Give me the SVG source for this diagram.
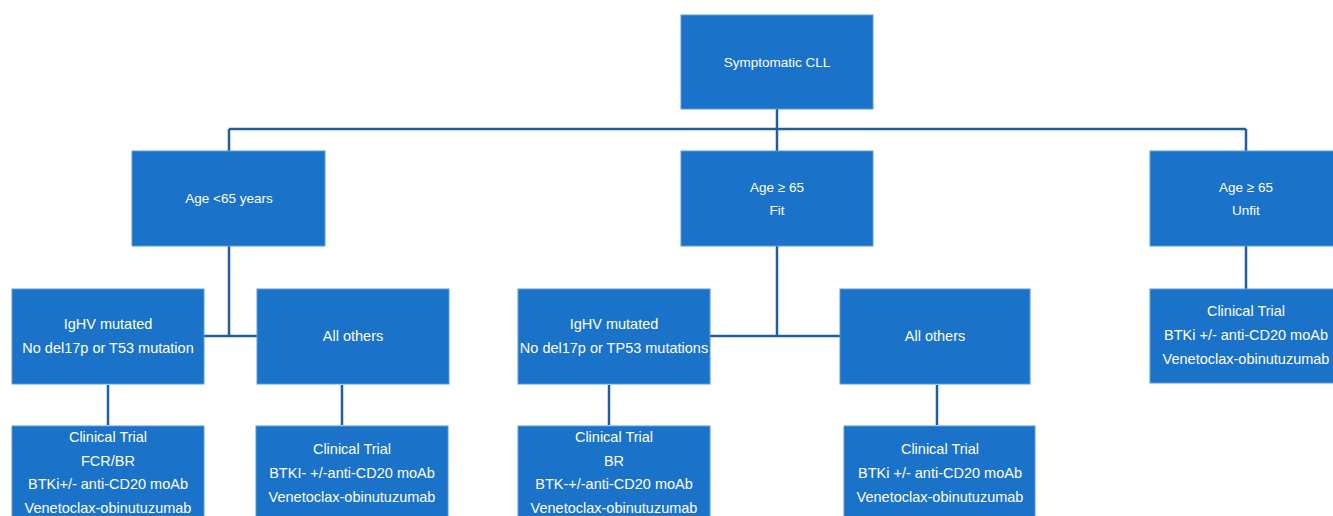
<svg xmlns="http://www.w3.org/2000/svg" width="1333" height="516" viewBox="0 0 1333 516">
<style>
.box{fill:#1a73c9;stroke:#5a9ad8;stroke-width:1}
.t{font-family:"Liberation Sans",Arial,sans-serif;font-size:13.5px;fill:#ffffff;text-anchor:middle}
.b{font-size:14.5px}
.c{fill:none;stroke:#1f5f9f;stroke-width:2.5}
</style>
<rect width="1333" height="516" fill="#ffffff"/>
<g id="connectors">
<path class="c" d="M777 109V151M229 129H1246M229 129V151M1246 129V151"/>
<path class="c" d="M229 246V336M204 336H257"/>
<path class="c" d="M777 246V336M710 336H840"/>
<path class="c" d="M1246 246V289"/>
<path class="c" d="M108 385V425M342 385V425M609 385V425M937 385V425"/>
</g>
<g id="n-root"><rect class="box" x="681" y="15" width="192" height="94"/><text class="t" x="777" y="67">Symptomatic CLL</text></g>
<g id="n-young"><rect class="box" x="132" y="151" width="193" height="95"/><text class="t" x="229" y="203">Age &lt;65 years</text></g>
<g id="n-fit"><rect class="box" x="681" y="151" width="192" height="95"/><text class="t" x="777" y="192">Age ≥ 65</text><text class="t" x="777" y="215">Fit</text></g>
<g id="n-unfit"><rect class="box" x="1150" y="151" width="193" height="95"/><text class="t" x="1246" y="192">Age ≥ 65</text><text class="t" x="1246" y="215">Unfit</text></g>
<g id="n-young-igvh"><rect class="box" x="12" y="289" width="192" height="95"/><text class="t b" x="108" y="329">IgHV mutated</text><text class="t b" x="108" y="353">No del17p or T53 mutation</text></g>
<g id="n-young-others"><rect class="box" x="257" y="289" width="192" height="95"/><text class="t b" x="353" y="341">All others</text></g>
<g id="n-fit-igvh"><rect class="box" x="518" y="289" width="192" height="95"/><text class="t b" x="614" y="329">IgHV mutated</text><text class="t b" x="614" y="353">No del17p or TP53 mutations</text></g>
<g id="n-fit-others"><rect class="box" x="840" y="289" width="190" height="95"/><text class="t b" x="935" y="341">All others</text></g>
<g id="n-unfit-tx"><rect class="box" x="1150" y="289" width="193" height="94"/><text class="t b" x="1246" y="316">Clinical Trial</text><text class="t b" x="1246" y="340">BTKi +/- anti-CD20 moAb</text><text class="t b" x="1246" y="364">Venetoclax-obinutuzumab</text></g>
<g id="n-young-igvh-tx"><rect class="box" x="12" y="426" width="192" height="95"/><text class="t b" x="108" y="442">Clinical Trial</text><text class="t b" x="108" y="466">FCR/BR</text><text class="t b" x="108" y="489">BTKi+/- anti-CD20 moAb</text><text class="t b" x="108" y="513">Venetoclax-obinutuzumab</text></g>
<g id="n-young-others-tx"><rect class="box" x="256" y="426" width="192" height="95"/><text class="t b" x="352" y="454">Clinical Trial</text><text class="t b" x="352" y="478">BTKI- +/-anti-CD20 moAb</text><text class="t b" x="352" y="502">Venetoclax-obinutuzumab</text></g>
<g id="n-fit-igvh-tx"><rect class="box" x="518" y="426" width="192" height="95"/><text class="t b" x="614" y="442">Clinical Trial</text><text class="t b" x="614" y="466">BR</text><text class="t b" x="614" y="489">BTK-+/-anti-CD20 moAb</text><text class="t b" x="614" y="513">Venetoclax-obinutuzumab</text></g>
<g id="n-fit-others-tx"><rect class="box" x="844" y="426" width="191" height="95"/><text class="t b" x="940" y="454">Clinical Trial</text><text class="t b" x="940" y="478">BTKi +/- anti-CD20 moAb</text><text class="t b" x="940" y="502">Venetoclax-obinutuzumab</text></g>
</svg>
